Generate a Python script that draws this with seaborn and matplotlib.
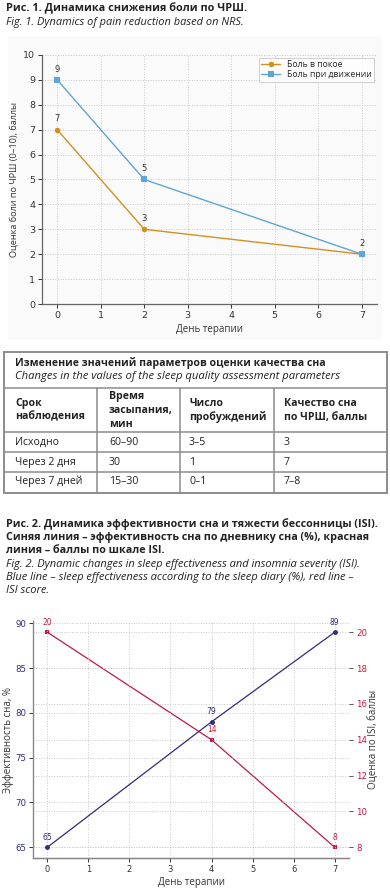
import matplotlib
matplotlib.use("Agg")
import matplotlib.pyplot as plt
import seaborn as sns
import pandas as pd
from matplotlib.patches import Rectangle

sns.set_style("white")
plt.rcParams["font.family"] = ["DejaVu Sans"]

W, H = 390, 888

# Fig. 1 data: pain score by therapy day
days1 = [0, 2, 7]
pain_rest = [7, 3, 2]
pain_move = [9, 5, 2]
series1 = ["Боль в покое", "Боль при движении"]

# table
tbl_title = "Изменение значений параметров оценки качества сна"
tbl_title_en = "Changes in the values of the sleep quality assessment parameters"
tbl_header = [["Срок", "наблюдения"], ["Время", "засыпания,", "мин"],
              ["Число", "пробуждений"], ["Качество сна", "по ЧРШ, баллы"]]
tbl_rows = [["Исходно", "60–90", "3–5", "3"],
            ["Через 2 дня", "30", "1", "7"],
            ["Через 7 дней", "15–30", "0–1", "7–8"]]

# Fig. 2 data
days2 = [0, 4, 7]
sleep_eff = [65, 79, 89]
isi_score = [20, 14, 8]

ORANGE = "#d4901f"
BLUE = "#5ea5d8"
NAVY = "#2f2c7c"
RED = "#c21a40"
GRIDC = "#c9c9c9"
CAP = "Open Sans"

fig = plt.figure(figsize=(W / 100, H / 100), dpi=100)
ov = fig.add_axes([0, 0, 1, 1], zorder=-5)
ov.set_xlim(0, W); ov.set_ylim(H, 0); ov.axis("off")

def ftxt(x, y, s, **kw):
    ov.text(x, y, s, va="center", ha="left", family=CAP, **kw)

# captions fig 1
ftxt(6, 8, "Рис. 1. Динамика снижения боли по ЧРШ.", fontsize=7.8, weight="bold", color="#222")
ftxt(6, 22, "Fig. 1. Dynamics of pain reduction based on NRS.", fontsize=7.9, style="italic", color="#222")
ov.add_patch(Rectangle((8, 36), 374, 304, color="#fafafa", lw=0))

# ---- chart 1
ax1 = fig.add_axes([42 / W, 1 - 304 / H, 335 / W, 249 / H])
ax1.set_facecolor("none")
df1 = pd.DataFrame({"day": days1 * 2, "score": pain_rest + pain_move,
                    "series": [series1[0]] * 3 + [series1[1]] * 3})
sns.lineplot(data=df1, x="day", y="score", hue="series", style="series",
             palette=[ORANGE, BLUE], markers=["o", "s"], dashes=False,
             markersize=4, markeredgewidth=0, linewidth=1.0, ax=ax1)
for d, v in zip(days1, pain_rest):
    ax1.annotate(str(v), (d, v), xytext=(0, 4.5), textcoords="offset points",
                 ha="center", va="bottom", fontsize=6, color="#333")
for d, v in zip(days1[:2], pain_move[:2]):
    ax1.annotate(str(v), (d, v), xytext=(0, 4.5), textcoords="offset points",
                 ha="center", va="bottom", fontsize=6, color="#333")
ax1.set_xlim(-0.35, 7.35)
ax1.set_ylim(0, 10)
ax1.set_xticks(range(8))
ax1.set_yticks(range(11))
ax1.grid(True, ls=":", color=GRIDC, lw=0.7)
for s in ["top", "right"]:
    ax1.spines[s].set_visible(False)
for s in ["left", "bottom"]:
    ax1.spines[s].set_color("#666")
    ax1.spines[s].set_linewidth(0.9)
ax1.tick_params(labelsize=6.8, colors="#333", length=3, width=0.7, pad=2, direction="out",
                left=True, bottom=True)
ax1.set_xlabel("День терапии", family=CAP, fontsize=7, color="#333", labelpad=3)
ax1.set_ylabel("Оценка боли по ЧРШ (0–10), баллы", family=CAP, fontsize=6.6, color="#333", labelpad=3)
leg = ax1.legend(loc="upper right", frameon=True, fancybox=False,
                 borderpad=0.3, handlelength=2.2, labelspacing=0.1, borderaxespad=0.3,
                 prop={"family": CAP, "size": 6.2})
leg.get_frame().set_edgecolor("#bbb")
leg.get_frame().set_linewidth(0.6)

# ---- table
LC = "#8c8c8c"
ov.add_patch(Rectangle((4, 352), 383, 141, fill=False, ec=LC, lw=1.4))
for y in [388, 432, 452, 472]:
    ov.plot([4, 387], [y, y], color=LC, lw=1.1)
for x in [97, 180, 274]:
    ov.plot([x, x], [388, 493], color=LC, lw=1.1)
ftxt(15, 363, tbl_title, fontsize=7.6, weight="bold", color="#222")
ftxt(15, 376, tbl_title_en, fontsize=8.1, style="italic", color="#222")
colx = [15, 109, 189, 284]
for x, lines in zip(colx, tbl_header):
    y0 = 410 - (len(lines) - 1) * 7
    for i, t in enumerate(lines):
        ftxt(x, y0 + i * 14, t, fontsize=7.6, weight="bold", color="#222")
rowy = [442, 462, 481]
for y, row in zip(rowy, tbl_rows):
    for x, t in zip(colx, row):
        ftxt(x, y, t, fontsize=7.6, color="#222")

# captions fig 2
cap2 = ["Рис. 2. Динамика эффективности сна и тяжести бессонницы (ISI).",
        "Синяя линия – эффективность сна по дневнику сна (%), красная",
        "линия – баллы по шкале ISI."]
cap2_en = ["Fig. 2. Dynamic changes in sleep effectiveness and insomnia severity (ISI).",
           "Blue line – sleep effectiveness according to the sleep diary (%), red line –",
           "ISI score."]
for i, t in enumerate(cap2):
    ftxt(6, 524 + i * 13, t, fontsize=7.75, weight="bold", color="#222")
for i, t in enumerate(cap2_en):
    ftxt(6, 564 + i * 13, t, fontsize=8.0, style="italic", color="#222")

# ---- chart 2
ax2 = fig.add_axes([33 / W, 1 - 858 / H, 316 / W, 236.5 / H])
ax2.set_facecolor("none")
sns.lineplot(x=days2, y=sleep_eff, color=NAVY, marker="o", markersize=3.5,
             markeredgewidth=0, linewidth=0.9, ax=ax2)
ax3 = ax2.twinx()
sns.lineplot(x=days2, y=isi_score, color=RED, marker="s", markersize=3.5,
             markeredgewidth=0, linewidth=0.9, ax=ax3)
for d, v in zip(days2, sleep_eff):
    ax2.annotate(str(v), (d, v), xytext=(0, 4), textcoords="offset points",
                 ha="center", va="bottom", fontsize=5.5, color=NAVY)
for d, v in zip(days2, isi_score):
    ax3.annotate(str(v), (d, v), xytext=(0, 4), textcoords="offset points",
                 ha="center", va="bottom", fontsize=5.5, color=RED)
ax2.set_xlim(-0.35, 7.35)
ax2.set_ylim(63.8, 90.2)
ax3.set_ylim(7.4, 20.6)
ax2.set_xticks(range(8))
ax2.set_yticks(range(65, 91, 5))
ax3.set_yticks(range(8, 21, 2))
ax2.grid(True, ls=":", color=GRIDC, lw=0.7)
ax3.grid(True, axis="y", ls=":", color=GRIDC, lw=0.7)
ax3.set_zorder(ax2.get_zorder() - 1)
ax2.patch.set_visible(False)
for a in (ax2, ax3):
    a.spines["top"].set_visible(False)
    a.spines["right"].set_visible(False)
    a.spines["left"].set_visible(a is ax2)
for s in ["left", "bottom"]:
    ax2.spines[s].set_color("#888")
    ax2.spines[s].set_linewidth(1.0)
ax2.tick_params(axis="x", labelsize=6, colors="#333", length=3, width=0.7, pad=2, bottom=True)
ax2.tick_params(axis="y", labelsize=6.2, colors="#333", labelcolor=NAVY, length=3, width=0.7,
                pad=2, left=True)
ax3.tick_params(axis="y", labelsize=6.2, colors="#555", labelcolor=RED, length=3, width=0.7,
                pad=2, right=True)
ax2.set_xlabel("День терапии", family=CAP, fontsize=7, color="#333", labelpad=2)
ax2.set_ylabel("Эффективность сна, %", family=CAP, fontsize=7, color="#333", labelpad=1)
ax3.set_ylabel("Оценка по ISI, баллы", family=CAP, fontsize=7, color="#333", labelpad=1)

fig.savefig("out.png", dpi=100)
